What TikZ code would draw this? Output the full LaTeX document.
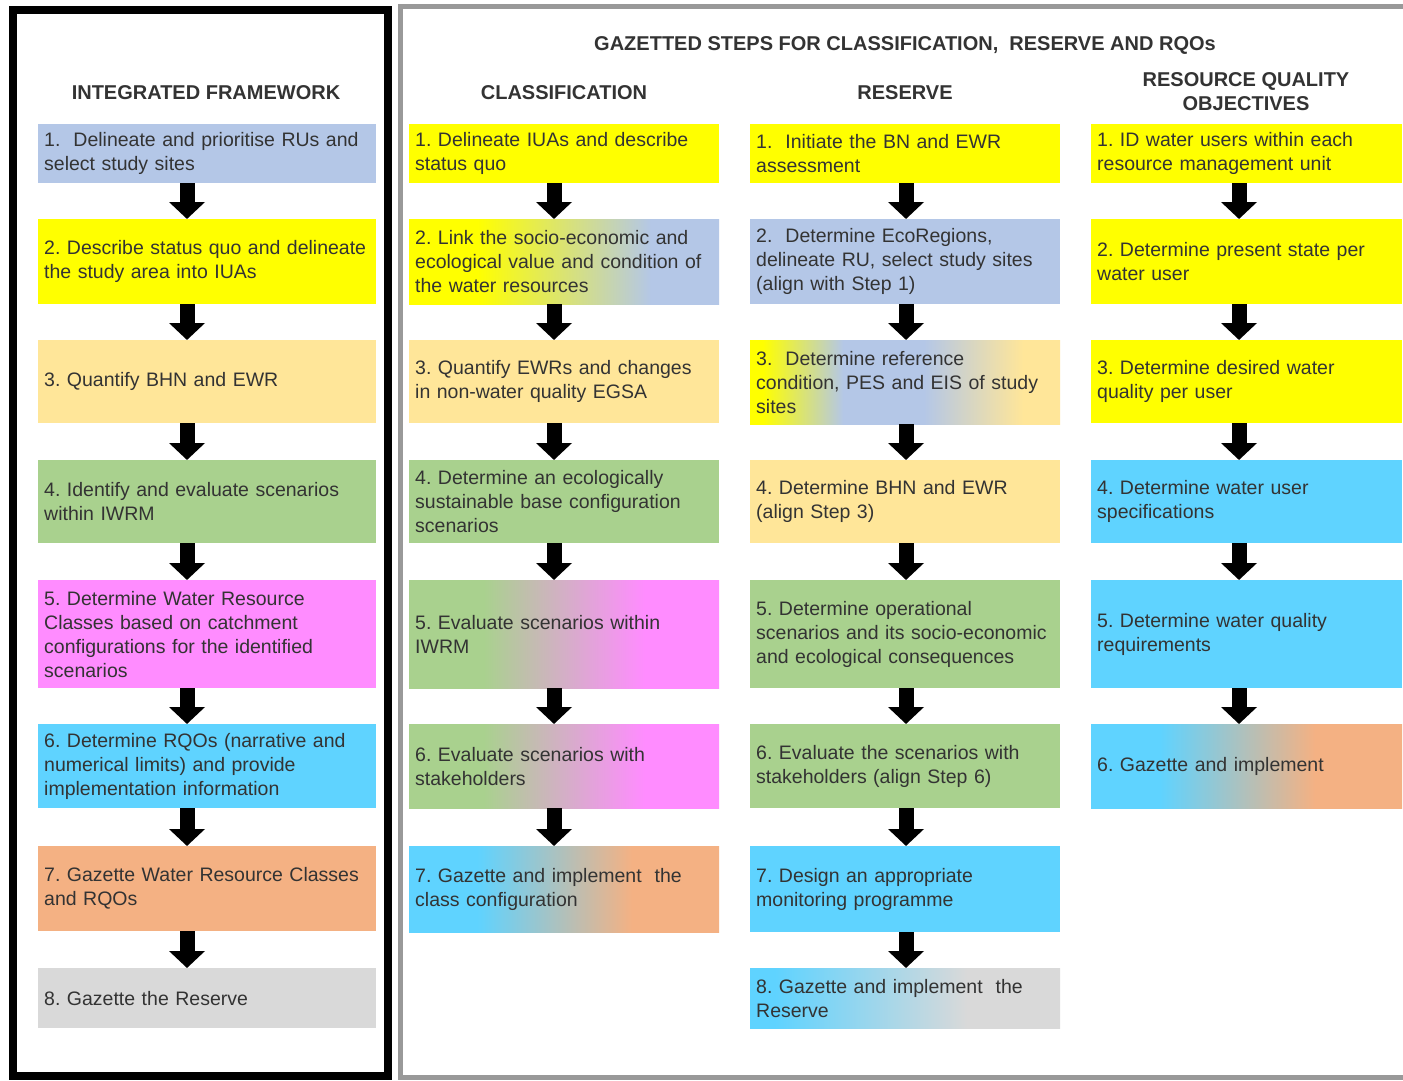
\documentclass[tikz,border=0pt]{standalone}
\usepackage{fontspec}
\setmainfont{Liberation Sans}
\usetikzlibrary{arrows.meta}
\frenchspacing

\definecolor{cyel}{HTML}{FFFF00}
\definecolor{cblu}{HTML}{B4C7E7}
\definecolor{cbuf}{HTML}{FFE699}
\definecolor{cgrn}{HTML}{A9D18E}
\definecolor{cpnk}{HTML}{FF8CFF}
\definecolor{ccyn}{HTML}{5FD3FF}
\definecolor{corg}{HTML}{F4B183}
\definecolor{cgry}{HTML}{D9D9D9}

% Colour blends (box spans 25bp to 75bp)
\pgfdeclarehorizontalshading{yelblu}{100bp}{color(0bp)=(cyel); color(36bp)=(cyel); color(64bp)=(cblu); color(100bp)=(cblu)}
\pgfdeclarehorizontalshading{yelbluorg}{100bp}{color(0bp)=(cyel); color(27bp)=(cyel); color(40bp)=(cblu); color(53bp)=(cblu); color(69bp)=(cbuf); color(100bp)=(cbuf)}
\pgfdeclarehorizontalshading{grnpnk}{100bp}{color(0bp)=(cgrn); color(37bp)=(cgrn); color(63bp)=(cpnk); color(100bp)=(cpnk)}
\pgfdeclarehorizontalshading{cynorg}{100bp}{color(0bp)=(ccyn); color(36bp)=(ccyn); color(61bp)=(corg); color(100bp)=(corg)}
\pgfdeclarehorizontalshading{cyngry}{100bp}{color(0bp)=(ccyn); color(29bp)=(ccyn); color(60bp)=(cgry); color(100bp)=(cgry)}

\tikzset{
  stepbox/.style={anchor=north west, inner xsep=6pt, inner ysep=0pt, align=left,
    text=black!80, font=\fontsize{19.5}{24}\selectfont},
  colA/.style={stepbox, text width=326pt},
  colB/.style={stepbox, text width=298pt},
  colC/.style={stepbox, text width=299pt},
  head/.style={text=black!80, font=\bfseries\fontsize{20}{24}\selectfont},
  flow/.style={line width=15pt, -{Triangle[width=35pt,length=17pt]}},
  blend/.style={shade, shading=#1}
}

\begin{document}
\begin{tikzpicture}[x=1pt, y=-1pt]

\useasboundingbox (0,0) rectangle (1403,1080);
\fill[white] (0,0) rectangle (1403,1080);

% Frames
\draw[line width=8pt] (13,10) rectangle (388,1076);
\draw[gray!80, line width=5pt] (1403,6) -- (400,6) -- (400,1077) -- (1403,1077);

% Headings
\node[head] (hint) at (206,93) {INTEGRATED FRAMEWORK};
\node[head] (hgaz) at (905,45) {GAZETTED STEPS FOR CLASSIFICATION,\ \ RESERVE AND RQOs};
\node[head] (hcla) at (564,93) {CLASSIFICATION};
\node[head] (hres) at (905,93) {RESERVE};
\node[head, align=center] (hrqo) at (1246,92) {RESOURCE QUALITY\\OBJECTIVES};

% Integrated framework
\node[colA, fill=cblu, minimum height=59pt] (f1) at (38,124) {1.\ \ Delineate and prioritise RUs and\\select study sites};
\node[colA, fill=cyel, minimum height=85pt] (f2) at (38,219) {2. Describe status quo and delineate\\the study area into IUAs};
\node[colA, fill=cbuf, minimum height=83pt] (f3) at (38,340) {3. Quantify BHN and EWR};
\node[colA, fill=cgrn, minimum height=83pt] (f4) at (38,460) {4. Identify and evaluate scenarios\\within IWRM};
\node[colA, fill=cpnk, minimum height=108pt] (f5) at (38,580) {5. Determine Water Resource\\Classes based on catchment\\configurations for the identified\\scenarios};
\node[colA, fill=ccyn, minimum height=84pt] (f6) at (38,724) {6. Determine RQOs (narrative and\\numerical limits) and provide\\implementation information};
\node[colA, fill=corg, minimum height=85pt] (f7) at (38,846) {7. Gazette Water Resource Classes\\and RQOs};
\node[colA, fill=cgry, minimum height=60pt] (f8) at (38,968) {8. Gazette the Reserve};

% Classification
\node[colB, fill=cyel, minimum height=59pt] (c1) at (409,124) {1. Delineate IUAs and describe\\status quo};
\node[colB, blend=yelblu, minimum height=85pt] (c2) at (409,219) {2. Link the socio-economic and\\ecological value and condition of\\the water resources};
\node[colB, fill=cbuf, minimum height=83pt] (c3) at (409,340) {3. Quantify EWRs and changes\\in non-water quality EGSA};
\node[colB, fill=cgrn, minimum height=83pt] (c4) at (409,460) {4. Determine an ecologically\\sustainable base configuration\\scenarios};
\node[colB, blend=grnpnk, minimum height=108pt] (c5) at (409,580) {5. Evaluate scenarios within\\IWRM};
\node[colB, blend=grnpnk, minimum height=84pt] (c6) at (409,724) {6. Evaluate scenarios with\\stakeholders};
\node[colB, blend=cynorg, minimum height=86pt] (c7) at (409,846) {7. Gazette and implement\ \ the\\class configuration};

% Reserve
\node[colB, fill=cyel, minimum height=59pt] (r1) at (750,124) {1.\ \ Initiate the BN and EWR\\assessment};
\node[colB, fill=cblu, minimum height=85pt] (r2) at (750,219) {2.\ \ Determine EcoRegions,\\delineate RU, select study sites\\(align with Step 1)};
\node[colB, blend=yelbluorg, minimum height=84pt] (r3) at (750,340) {3.\ \ Determine reference\\condition, PES and EIS of study\\sites};
\node[colB, fill=cbuf, minimum height=83pt] (r4) at (750,460) {4. Determine BHN and EWR\\(align Step 3)};
\node[colB, fill=cgrn, minimum height=108pt] (r5) at (750,580) {5. Determine operational\\scenarios and its socio-economic\\and ecological consequences};
\node[colB, fill=cgrn, minimum height=84pt] (r6) at (750,724) {6. Evaluate the scenarios with\\stakeholders (align Step 6)};
\node[colB, fill=ccyn, minimum height=86pt] (r7) at (750,846) {7. Design an appropriate\\monitoring programme};
\node[colB, blend=cyngry, minimum height=60pt] (r8) at (750,968) {8. Gazette and implement\ \ the\\Reserve};

% Resource quality objectives
\node[colC, fill=cyel, minimum height=59pt] (q1) at (1091,124) {1. ID water users within each\\resource management unit};
\node[colC, fill=cyel, minimum height=85pt] (q2) at (1091,219) {2. Determine present state per\\water user};
\node[colC, fill=cyel, minimum height=83pt] (q3) at (1091,340) {3. Determine desired water\\quality per user};
\node[colC, fill=ccyn, minimum height=83pt] (q4) at (1091,460) {4. Determine water user\\specifications};
\node[colC, fill=ccyn, minimum height=108pt] (q5) at (1091,580) {5. Determine water quality\\requirements};
\node[colC, blend=cynorg, minimum height=84pt] (q6) at (1091,724) {6. Gazette and implement};

% Arrows
\coordinate (xf) at (187,0);
\coordinate (xc) at (554,0);
\coordinate (xr) at (906,0);
\coordinate (xq) at (1239,0);
\foreach \a/\b in {1/2,2/3,3/4,4/5,5/6,6/7,7/8}
  \draw[flow] (f\a.south -| xf) -- (f\b.north -| xf);
\foreach \a/\b in {1/2,2/3,3/4,4/5,5/6,6/7}
  \draw[flow] (c\a.south -| xc) -- (c\b.north -| xc);
\foreach \a/\b in {1/2,2/3,3/4,4/5,5/6,6/7,7/8}
  \draw[flow] (r\a.south -| xr) -- (r\b.north -| xr);
\foreach \a/\b in {1/2,2/3,3/4,4/5,5/6}
  \draw[flow] (q\a.south -| xq) -- (q\b.north -| xq);

\end{tikzpicture}
\end{document}
